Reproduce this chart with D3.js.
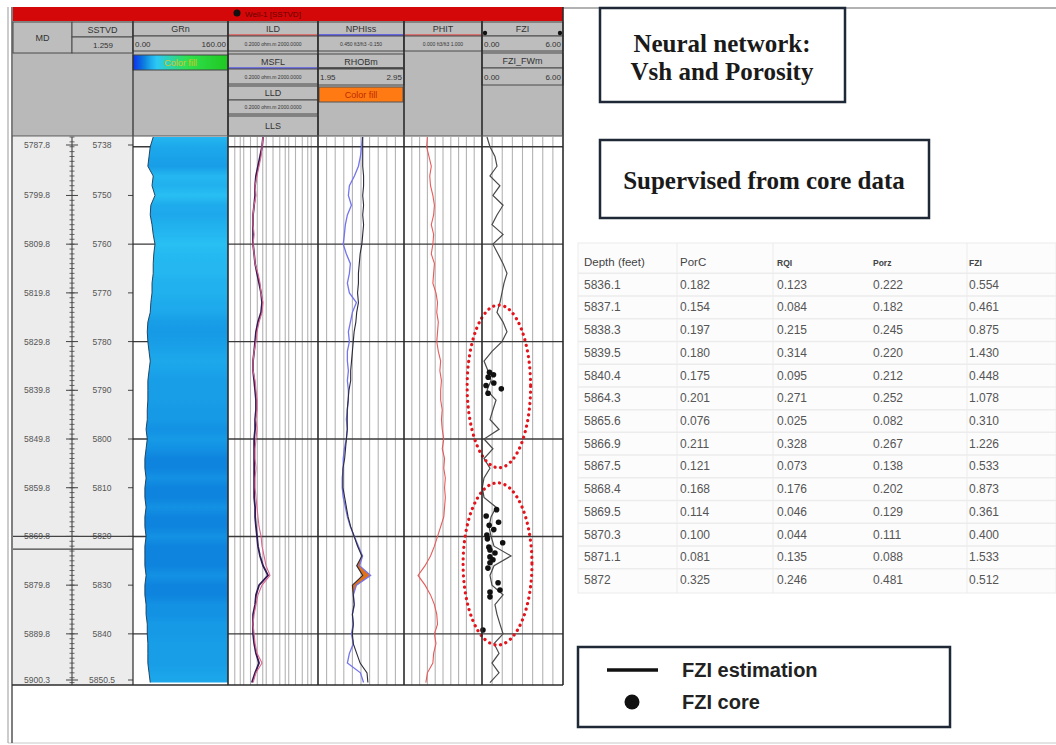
<!DOCTYPE html>
<html>
<head>
<meta charset="utf-8">
<script src="https://cdn.jsdelivr.net/npm/d3@7"></script>
<style>
  body { margin: 0; background: #fff; }
  svg { display: block; font-family: "Liberation Sans", Arial, sans-serif; }
</style>
</head>
<body>
<div id="chart"></div>
<script>
// Dimensions of the page.
var width = 1056;
var height = 745;

// Depth axis (SSTVD, feet). MD = SSTVD + mdOffset.
var depthTop = 5738;
var depthBase = 5850.5;
var mdOffset = 49.8;
var sampleDepths = d3.range(5738, 5851, 2);

// Log curves, one value per 2 ft sample.
var grValues = [34, 29, 27, 25, 34, 32, 37, 30, 29, 32, 34, 37, 35, 34, 34, 32, 32, 30, 29, 25,
  24, 25, 27, 29, 27, 25, 25, 25, 24, 24, 22, 24, 22, 20, 20, 22, 20, 20, 22, 20,
  20, 22, 20, 20, 20, 22, 20, 20, 22, 22, 24, 24, 25, 25, 25, 27, 29];
var ildValues = [7.2, 6.5, 5.9, 4.8, 3.9, 3.2, 3.5, 2.9, 2.6, 2.6, 2.9, 2.6, 2.9, 3.2, 4.3, 5.3, 5.9, 7.2, 6.5, 4.8,
  3.9, 3.5, 2.9, 2.6, 2.6, 3.2, 3.5, 3.9, 3.9, 3.5, 3.9, 3.5, 3.2, 3.2, 3.5, 3.2, 3.2, 3.5, 3.9, 4.3,
  4.8, 5.9, 6.5, 8.0, 9.8, 14.7, 6.5, 4.3, 3.5, 2.9, 2.6, 2.9, 3.2, 3.9, 6.5, 3.5, 2.6];
var lldValues = [7.2, 6.5, 5.3, 4.3, 3.5, 3.2, 3.2, 2.9, 2.6, 2.6, 2.6, 2.6, 2.9, 3.2, 3.9, 4.8, 5.9, 6.5, 5.9, 4.3,
  3.5, 3.2, 2.9, 2.6, 2.6, 2.9, 3.2, 3.5, 3.5, 3.2, 3.2, 2.9, 2.9, 2.9, 2.9, 2.9, 2.9, 2.9, 3.2, 3.2,
  3.5, 3.9, 4.3, 5.3, 7.2, 12.0, 4.8, 3.5, 3.2, 2.6, 2.6, 2.6, 2.9, 3.5, 4.8, 3.2, 2.3];
var nphiValues = [0.139, 0.146, 0.154, 0.168, 0.196, 0.231, 0.238, 0.217, 0.245, 0.259, 0.266, 0.274, 0.252, 0.224, 0.231, 0.245, 0.231, 0.182, 0.210, 0.224,
  0.238, 0.231, 0.245, 0.245, 0.238, 0.245, 0.238, 0.238, 0.245, 0.252, 0.245, 0.252, 0.266, 0.274, 0.274, 0.281, 0.281, 0.274, 0.259, 0.245,
  0.224, 0.196, 0.168, 0.139, 0.160, 0.083, 0.182, 0.203, 0.196, 0.210, 0.203, 0.217, 0.203, 0.231, 0.245, 0.154, 0.132];
var rhobValues = [2.47, 2.47, 2.47, 2.47, 2.48, 2.48, 2.47, 2.48, 2.47, 2.48, 2.47, 2.46, 2.44, 2.43, 2.42, 2.42, 2.41, 2.42, 2.40, 2.39,
  2.37, 2.36, 2.35, 2.34, 2.33, 2.33, 2.31, 2.30, 2.29, 2.29, 2.29, 2.28, 2.27, 2.26, 2.24, 2.24, 2.24, 2.26, 2.28, 2.30,
  2.33, 2.37, 2.41, 2.46, 2.40, 2.47, 2.35, 2.36, 2.37, 2.35, 2.36, 2.35, 2.36, 2.40, 2.44, 2.52, 2.53];
var phitValues = [0.30, 0.29, 0.32, 0.35, 0.33, 0.34, 0.37, 0.39, 0.38, 0.35, 0.38, 0.37, 0.35, 0.39, 0.38, 0.37, 0.41, 0.43, 0.42, 0.44,
  0.43, 0.42, 0.44, 0.47, 0.46, 0.48, 0.47, 0.47, 0.49, 0.48, 0.49, 0.51, 0.49, 0.52, 0.51, 0.53, 0.52, 0.53, 0.52, 0.51,
  0.47, 0.43, 0.39, 0.34, 0.27, 0.18, 0.27, 0.34, 0.39, 0.42, 0.43, 0.39, 0.41, 0.38, 0.37, 0.30, 0.28];
var fziValues = [0.37, 0.59, 0.96, 1.11, 0.59, 1.33, 0.81, 1.56, 1.11, 0.74, 1.56, 0.81, 1.19, 1.56, 1.85, 1.63, 1.48, 1.33, 1.11, 1.56,
  1.85, 1.48, 0.74, 0.15, 0.44, 0.67, 0.37, 1.04, 0.81, 0.59, 1.26, 0.15, 0.81, 0.15, 0.59, 0.15, 0.02, 0.15, 1.04, 0.67,
  0.52, 0.67, 0.89, 2.15, 0.89, 0.59, 0.74, 1.56, 0.96, 1.11, 1.33, 1.56, 0.89, 1.26, 0.74, 1.26, 0.59];

// Core table (MD depth in feet).
var tableColumns = ["Depth (feet)", "PorC", "RQI", "Porz", "FZI"];
var tableDepth = [5836.1, 5837.1, 5838.3, 5839.5, 5840.4, 5864.3, 5865.6, 5866.9, 5867.5, 5868.4, 5869.5, 5870.3, 5871.1, 5872];
var tablePorC = [0.182, 0.154, 0.197, 0.180, 0.175, 0.201, 0.076, 0.211, 0.121, 0.168, 0.114, 0.100, 0.081, 0.325];
var tableRQI = [0.123, 0.084, 0.215, 0.314, 0.095, 0.271, 0.025, 0.328, 0.073, 0.176, 0.046, 0.044, 0.135, 0.246];
var tablePorz = [0.222, 0.182, 0.245, 0.220, 0.212, 0.252, 0.082, 0.267, 0.138, 0.202, 0.129, 0.111, 0.088, 0.481];
var tableFZI = [0.554, 0.461, 0.875, 1.430, 0.448, 1.078, 0.310, 1.226, 0.533, 0.873, 0.361, 0.400, 1.533, 0.512];

// Core points shown on the log but not listed in the table (MD, FZI).
var extraCoreMD = [5836.6, 5838.8, 5872.6, 5873.2, 5874.0, 5874.6, 5875.2, 5876.3, 5879.3, 5880.8, 5881.2, 5882.2, 5889.0];
var extraCoreFZI = [0.85, 0.30, 0.59, 0.96, 0.59, 0.81, 0.59, 0.44, 1.19, 1.33, 0.59, 0.59, 0.07];

// Depth labels.
var sstvdTicks = [5738, 5750, 5760, 5770, 5780, 5790, 5800, 5810, 5820, 5830, 5840, 5850.5];
var sstvdLabels = ["5738", "5750", "5760", "5770", "5780", "5790", "5800", "5810", "5820", "5830", "5840", "5850.5"];
var mdLabels = ["5787.8", "5799.8", "5809.8", "5819.8", "5829.8", "5839.8", "5849.8", "5859.8", "5869.8", "5879.8", "5889.8", "5900.3"];
var gridDepths = [5740, 5760, 5780, 5800, 5820, 5840];

// Highlighted intervals (SSTVD top/base, FZI left/right).
var highlightTop = [5772.5, 5809.0];
var highlightBase = [5805.9, 5842.3];
var highlightLeft = [-1.1, -1.4];
var highlightRight = [3.6, 3.7];

var svg = d3.select("#chart").append("svg")
    .attr("width", width)
    .attr("height", height);
var defs = svg.append("defs");

// Scales
var y = d3.scaleLinear().domain([depthTop, depthBase]).range([137, 685]);
var grX = d3.scaleLinear().domain([0, 160]).range([133, 228]);
var resX = d3.scaleLog().domain([0.2, 2000]).range([228, 318]);
var nphiX = d3.scaleLinear().domain([0.45, -0.15]).range([318, 404]);
var rhobX = d3.scaleLinear().domain([1.95, 2.95]).range([318, 404]);
var phitX = d3.scaleLinear().domain([0, 1]).range([404, 482]);
var fziX = d3.scaleLinear().domain([0, 6]).range([482, 563]);
var grColor = d3.scaleLinear()
    .domain([0, 19, 23, 40, 90, 160])
    .range(["#1030f0", "#0b7edc", "#1597e5", "#2cc8f6", "#2fe050", "#20c820"]);

var yTop = y.range()[0], yBot = y.range()[1];

// ---- outer frame ----
svg.append("line").attr("x1", 563).attr("x2", width).attr("y1", 8).attr("y2", 8)
    .attr("stroke", "#666").attr("stroke-width", 1.2);
svg.append("line").attr("x1", 8).attr("x2", width).attr("y1", 743).attr("y2", 743)
    .attr("stroke", "#c8c8c8");
svg.append("line").attr("x1", 8).attr("x2", 8).attr("y1", 7).attr("y2", 743)
    .attr("stroke", "#999").attr("stroke-width", 1);
svg.append("line").attr("x1", 12).attr("x2", 12).attr("y1", 7).attr("y2", 743)
    .attr("stroke", "#555").attr("stroke-width", 1.5);

// ---- header ----
svg.append("rect").attr("x", 13).attr("y", 7).attr("width", 550).attr("height", 14).attr("fill", "#d40808");
svg.append("circle").attr("cx", 237).attr("cy", 13).attr("r", 3.5).attr("fill", "#111");
svg.append("text").attr("x", 245).attr("y", 17).attr("font-size", 8).attr("fill", "#6a0000")
    .text("Well-1 [SSTVD]");
svg.append("rect").attr("x", 13).attr("y", 21).attr("width", 550).attr("height", 115).attr("fill", "#b9b9b9");

var smallScale = "0.2000 ohm.m 2000.0000";
var headerCells = [
  {x0: 13, x1: 72, y0: 22, y1: 53, t: "MD"},
  {x0: 72, x1: 133, y0: 22, y1: 37, t: "SSTVD"},
  {x0: 72, x1: 133, y0: 37, y1: 53, right: "1.259"},
  {x0: 133, x1: 228, y0: 22, y1: 36, t: "GRn"},
  {x0: 133, x1: 228, y0: 36, y1: 51, left: "0.00", right: "160.00"},
  {x0: 228, x1: 318, y0: 22, y1: 36, t: "ILD", line: "#e05a5a"},
  {x0: 228, x1: 318, y0: 36, y1: 51, t: smallScale, small: true},
  {x0: 228, x1: 318, y0: 54, y1: 69, t: "MSFL", line: "#5a5ae6"},
  {x0: 228, x1: 318, y0: 69, y1: 84, t: smallScale, small: true},
  {x0: 228, x1: 318, y0: 86, y1: 100, t: "LLD"},
  {x0: 228, x1: 318, y0: 100, y1: 114, t: smallScale, small: true},
  {x0: 228, x1: 318, y0: 116, y1: 136, t: "LLS"},
  {x0: 318, x1: 404, y0: 22, y1: 36, t: "NPHIss", line: "#4a4aea"},
  {x0: 318, x1: 404, y0: 36, y1: 51, t: "0.450 ft3/ft3 -0.150", small: true},
  {x0: 318, x1: 404, y0: 54, y1: 69, t: "RHOBm", line: "#333"},
  {x0: 318, x1: 404, y0: 69, y1: 85, left: "1.95", right: "2.95"},
  {x0: 404, x1: 482, y0: 22, y1: 36, t: "PHIT", line: "#e05a5a"},
  {x0: 404, x1: 482, y0: 36, y1: 51, t: "0.000 ft3/ft3 1.000", small: true},
  {x0: 482, x1: 563, y0: 22, y1: 36, t: "FZI"},
  {x0: 482, x1: 563, y0: 36, y1: 51, left: "0.00", right: "6.00"},
  {x0: 482, x1: 563, y0: 53, y1: 68, t: "FZI_FWm"},
  {x0: 482, x1: 563, y0: 68, y1: 85, left: "0.00", right: "6.00"}
];

var hdr = svg.append("g");
headerCells.forEach(function(c) {
  hdr.append("rect").attr("x", c.x0).attr("y", c.y0)
      .attr("width", c.x1 - c.x0).attr("height", c.y1 - c.y0)
      .attr("fill", "#bdbdbd").attr("stroke", "#4a4a4a").attr("stroke-width", 1);
  var cy = (c.y0 + c.y1) / 2 + 3;
  if (c.t) {
    hdr.append("text").attr("x", (c.x0 + c.x1) / 2).attr("y", c.small ? cy - 1 : cy)
        .attr("text-anchor", "middle")
        .attr("font-size", c.small ? 5 : 9)
        .attr("fill", "#333").text(c.t);
  }
  if (c.left) {
    hdr.append("text").attr("x", c.x0 + 2).attr("y", cy).attr("font-size", 8).attr("fill", "#333").text(c.left);
  }
  if (c.right) {
    hdr.append("text").attr("x", c.x1 - (c.left ? 2 : 20)).attr("y", cy).attr("text-anchor", "end")
        .attr("font-size", 8).attr("fill", "#333").text(c.right);
  }
  if (c.line) {
    hdr.append("line").attr("x1", c.x0 + 1).attr("x2", c.x1 - 1).attr("y1", c.y1 - 1).attr("y2", c.y1 - 1)
        .attr("stroke", c.line).attr("stroke-width", 1.5);
  }
});
// FZI point style markers
hdr.selectAll("circle.fzimark").data([fziX.range()[0] + 3, fziX.range()[1] - 3]).join("circle")
    .attr("cx", function(d) { return d; }).attr("cy", 33).attr("r", 2.2).attr("fill", "#111");

// GR colour fill legend bar
var barGrad = defs.append("linearGradient").attr("id", "barGrad");
barGrad.selectAll("stop").data(d3.range(0, 161, 10)).join("stop")
    .attr("offset", function(d) { return d / 160; })
    .attr("stop-color", function(d) { return grColor(d); });
hdr.append("rect").attr("x", grX.range()[0]).attr("y", 55).attr("width", grX.range()[1] - grX.range()[0]).attr("height", 15)
    .attr("fill", "url(#barGrad)").attr("stroke", "#444");
hdr.append("text").attr("x", (grX.range()[0] + grX.range()[1]) / 2).attr("y", 66).attr("text-anchor", "middle")
    .attr("font-size", 9).attr("fill", "#f0c020").attr("opacity", 0.85).text("Color fill");
// Density-neutron crossover fill legend
hdr.append("rect").attr("x", 319).attr("y", 87).attr("width", 84).attr("height", 15)
    .attr("fill", "#ff7a12").attr("stroke", "#555");
hdr.append("text").attr("x", 361).attr("y", 98).attr("text-anchor", "middle")
    .attr("font-size", 9).attr("fill", "#c02a00").text("Color fill");

// ---- depth columns ----
svg.append("rect").attr("x", 13).attr("y", yTop).attr("width", 120).attr("height", yBot - yTop).attr("fill", "#ececec");
svg.append("rect").attr("x", 133).attr("y", yTop).attr("width", 430).attr("height", yBot - yTop).attr("fill", "#fff");

var depthG = svg.append("g");
depthG.append("line").attr("x1", 72).attr("x2", 72).attr("y1", yTop).attr("y2", yBot)
    .attr("stroke", "#333").attr("stroke-width", 1);
depthG.selectAll("line.foot").data(d3.range(5738, 5851, 1)).join("line")
    .attr("x1", 69.5).attr("x2", 74.5)
    .attr("y1", function(d) { return y(d); }).attr("y2", function(d) { return y(d); })
    .attr("stroke", "#444").attr("stroke-width", 0.8);

function labelY(d) { return Math.min(Math.max(y(d), 145), 680) + 3; }
depthG.selectAll("text.md").data(sstvdTicks).join("text")
    .attr("x", 37).attr("y", labelY).attr("text-anchor", "middle")
    .attr("font-size", 8.5).attr("fill", "#555")
    .text(function(d, i) { return mdLabels[i]; });
depthG.selectAll("text.ss").data(sstvdTicks).join("text")
    .attr("x", 102).attr("y", labelY).attr("text-anchor", "middle")
    .attr("font-size", 8.5).attr("fill", "#555")
    .text(function(d, i) { return sstvdLabels[i]; });
depthG.selectAll("path.cross").data(sstvdTicks).join("path")
    .attr("d", function(d) { var yy = labelY(d) - 3; return "M66," + yy + "H78M128," + yy + "H133"; })
    .attr("stroke", "#444").attr("stroke-width", 1);
// section break in the depth columns
depthG.selectAll("line.brk").data([5820, 5822.6]).join("line")
    .attr("x1", 13).attr("x2", 133)
    .attr("y1", function(d) { return y(d); }).attr("y2", function(d) { return y(d); })
    .attr("stroke", "#444").attr("stroke-width", 1.2);

// ---- vertical grid ----
var grid = svg.append("g");
var resTicks = resX.ticks().filter(function(d) {
  var m = Math.round(d / Math.pow(10, Math.floor(Math.log10(d) + 1e-9)));
  return d > 0.2 && d < 2000 && [1, 2, 4, 7].indexOf(m) >= 0;
});
grid.selectAll("line.res").data(resTicks).join("line")
    .attr("x1", resX).attr("x2", resX).attr("y1", yTop).attr("y2", yBot)
    .attr("stroke", "#b3b3b3").attr("stroke-width", 1.1);
[[318, 404, 10], [404, 482, 10], [482, 563, 8]].forEach(function(t) {
  var sx = d3.scaleLinear().domain([0, t[2]]).range([t[0], t[1]]);
  grid.selectAll(null).data(d3.range(1, t[2])).join("line")
      .attr("x1", sx).attr("x2", sx).attr("y1", yTop).attr("y2", yBot)
      .attr("stroke", "#b3b3b3").attr("stroke-width", 1.1);
});
grid.selectAll("line.h").data(gridDepths).join("line")
    .attr("x1", 133).attr("x2", 563)
    .attr("y1", function(d) { return y(d); }).attr("y2", function(d) { return y(d); })
    .attr("stroke", "#3a3a3a").attr("stroke-width", 1.4);

// ---- GR colour fill ----
var samples = sampleDepths.map(function(d, i) {
  return {depth: d, gr: grValues[i], ild: ildValues[i], lld: lldValues[i], nphi: nphiValues[i],
          rhob: rhobValues[i], phit: phitValues[i], fzi: fziValues[i]};
});
var grGrad = defs.append("linearGradient").attr("id", "grGrad").attr("gradientUnits", "userSpaceOnUse")
    .attr("x1", 0).attr("x2", 0).attr("y1", yTop).attr("y2", yBot);
grGrad.selectAll("stop").data(samples).join("stop")
    .attr("offset", function(d) { return (y(d.depth) - yTop) / (yBot - yTop); })
    .attr("stop-color", function(d) { return grColor(d.gr); });
svg.append("path").datum(samples)
    .attr("d", d3.area().y(function(d) { return y(d.depth); })
      .x0(function(d) { return grX(d.gr); }).x1(grX.range()[1]))
    .attr("fill", "url(#grGrad)");
svg.append("path").datum(samples)
    .attr("d", d3.line().y(function(d) { return y(d.depth); }).x(function(d) { return grX(d.gr); }))
    .attr("fill", "none").attr("stroke", "#1d3550").attr("stroke-width", 0.9);

// ---- crossover fill NPHI / RHOB ----
svg.append("path").datum(samples)
    .attr("d", d3.area().y(function(d) { return y(d.depth); })
      .x0(function(d) { return rhobX(d.rhob); })
      .x1(function(d) { return Math.max(rhobX(d.rhob), nphiX(d.nphi)); }))
    .attr("fill", "#e0701a");

// ---- curves ----
function curve(xs, key, color, w) {
  svg.append("path").datum(samples)
      .attr("d", d3.line().y(function(d) { return y(d.depth); }).x(function(d) { return xs(d[key]); }))
      .attr("fill", "none").attr("stroke", color).attr("stroke-width", w);
}
curve(resX, "lld", "#2e1a55", 1.8);
curve(resX, "ild", "#e0648e", 1.1);
curve(nphiX, "nphi", "#7474ee", 1.3);
curve(rhobX, "rhob", "#2a2a3a", 1.1);
curve(phitX, "phit", "#e85a5a", 1.1);
curve(fziX, "fzi", "#4a4a4a", 1.2);

// ---- core FZI points ----
var corePoints = tableDepth.map(function(d, i) { return {md: d, fzi: tableFZI[i]}; })
    .concat(extraCoreMD.map(function(d, i) { return {md: d, fzi: extraCoreFZI[i]}; }));
svg.selectAll("circle.core").data(corePoints).join("circle")
    .attr("cx", function(d) { return fziX(d.fzi); })
    .attr("cy", function(d) { return y(d.md - mdOffset); })
    .attr("r", 2.8).attr("fill", "#111");

// ---- highlighted intervals ----
svg.selectAll("ellipse.hl").data(highlightTop).join("ellipse")
    .attr("cx", function(d, i) { return (fziX(highlightLeft[i]) + fziX(highlightRight[i])) / 2; })
    .attr("cy", function(d, i) { return (y(d) + y(highlightBase[i])) / 2; })
    .attr("rx", function(d, i) { return (fziX(highlightRight[i]) - fziX(highlightLeft[i])) / 2; })
    .attr("ry", function(d, i) { return (y(highlightBase[i]) - y(d)) / 2; })
    .attr("fill", "none").attr("stroke", "#e4141c").attr("stroke-width", 3.2)
    .attr("stroke-linecap", "round").attr("stroke-dasharray", "0.1 5.6");

// ---- track borders ----
svg.selectAll("line.tb").data([133, 228, 318, 404, 482]).join("line")
    .attr("x1", function(d) { return d; }).attr("x2", function(d) { return d; })
    .attr("y1", 21).attr("y2", yBot)
    .attr("stroke", "#2b2b2b").attr("stroke-width", function(d) { return d === 133 ? 1.2 : 1.6; });
svg.append("line").attr("x1", 563).attr("x2", 563).attr("y1", 7).attr("y2", yBot)
    .attr("stroke", "#2b2b2b").attr("stroke-width", 1.6);
svg.append("line").attr("x1", 12).attr("x2", 563).attr("y1", yTop - 1).attr("y2", yTop - 1)
    .attr("stroke", "#555").attr("stroke-width", 1);
svg.append("line").attr("x1", 12).attr("x2", 563).attr("y1", yBot).attr("y2", yBot)
    .attr("stroke", "#2b2b2b").attr("stroke-width", 1.5);

// ---- title boxes ----
var titleFont = "'Liberation Serif', 'Times New Roman', serif";
svg.append("rect").attr("x", 600).attr("y", 8).attr("width", 245).attr("height", 94)
    .attr("fill", "#fff").attr("stroke", "#1e2836").attr("stroke-width", 2.5);
svg.append("text").attr("x", 722).attr("y", 52).attr("text-anchor", "middle")
    .attr("font-family", titleFont).attr("font-weight", "bold").attr("font-size", 25).attr("fill", "#1a1a1a")
    .text("Neural network:");
svg.append("text").attr("x", 722).attr("y", 80).attr("text-anchor", "middle")
    .attr("font-family", titleFont).attr("font-weight", "bold").attr("font-size", 25).attr("fill", "#1a1a1a")
    .text("Vsh and Porosity");
svg.append("rect").attr("x", 600).attr("y", 140).attr("width", 329).attr("height", 78)
    .attr("fill", "#fff").attr("stroke", "#1e2836").attr("stroke-width", 2.5);
svg.append("text").attr("x", 764).attr("y", 189).attr("text-anchor", "middle")
    .attr("font-family", titleFont).attr("font-weight", "bold").attr("font-size", 25).attr("fill", "#1a1a1a")
    .text("Supervised from core data");

// ---- core data table ----
var tableX = [584, 680, 777, 873, 969];
var rowY = d3.scaleLinear().domain([0, 14]).range([262, 580]);
var table = svg.append("g");
table.append("rect").attr("x", 578).attr("y", 243).attr("width", 478).attr("height", 350)
    .attr("fill", "#fcfcfc").attr("stroke", "#ececec");
table.selectAll("line.row").data(d3.range(1, 15)).join("line")
    .attr("x1", 578).attr("x2", width)
    .attr("y1", function(i) { return rowY(i - 0.5); }).attr("y2", function(i) { return rowY(i - 0.5); })
    .attr("stroke", "#ececec").attr("stroke-width", 1.5);
table.selectAll("line.col").data([677, 773, 967]).join("line")
    .attr("x1", function(d) { return d; }).attr("x2", function(d) { return d; })
    .attr("y1", 243).attr("y2", 593)
    .attr("stroke", "#ececec");
table.selectAll("text.head").data(tableColumns).join("text")
    .attr("x", function(d, i) { return tableX[i]; }).attr("y", rowY(0) + 4)
    .attr("font-size", function(d, i) { return i < 2 ? 11.5 : 8.5; })
    .attr("font-weight", function(d, i) { return i < 2 ? "normal" : "bold"; })
    .attr("fill", "#444").text(function(d) { return d; });
var fmt = d3.format(".3f");
var rows = tableDepth.map(function(d, i) {
  return [String(d), fmt(tablePorC[i]), fmt(tableRQI[i]), fmt(tablePorz[i]), fmt(tableFZI[i])];
});
rows.forEach(function(r, i) {
  table.selectAll(null).data(r).join("text")
      .attr("x", function(d, j) { return tableX[j]; }).attr("y", rowY(i + 1) + 4)
      .attr("font-size", 12).attr("fill", "#555")
      .text(function(d) { return d; });
});

// ---- legend ----
var legend = svg.append("g");
legend.append("rect").attr("x", 578).attr("y", 647).attr("width", 372).attr("height", 80)
    .attr("fill", "#fff").attr("stroke", "#1e2836").attr("stroke-width", 2.5);
legend.append("line").attr("x1", 607).attr("x2", 658).attr("y1", 670).attr("y2", 670)
    .attr("stroke", "#111").attr("stroke-width", 3.5);
legend.append("circle").attr("cx", 632).attr("cy", 702).attr("r", 7.5).attr("fill", "#111");
legend.append("text").attr("x", 682).attr("y", 677).attr("font-size", 20).attr("font-weight", "bold")
    .attr("fill", "#222").text("FZI estimation");
legend.append("text").attr("x", 682).attr("y", 709).attr("font-size", 20).attr("font-weight", "bold")
    .attr("fill", "#222").text("FZI core");
</script>
</body>
</html>
